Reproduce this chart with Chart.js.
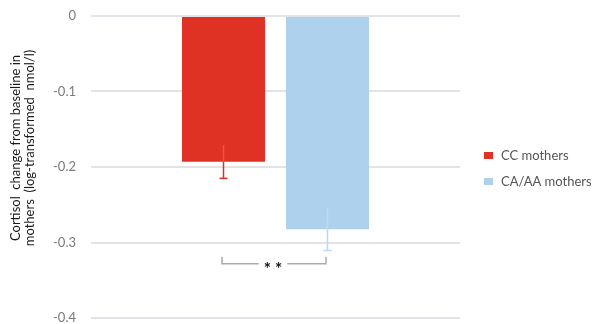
<!DOCTYPE html>
<html>
<head>
<meta charset="utf-8">
<script src="https://cdn.jsdelivr.net/npm/chart.js@4/dist/chart.umd.min.js"></script>
<style>
  html, body { margin: 0; padding: 0; background: #fff; }
  #wrap { width: 599px; height: 324px; position: relative; }
  canvas { display: block; }
</style>
</head>
<body>
<div id="wrap"><canvas id="c" width="599" height="324"></canvas></div>
<script>
// ---- data ----
const categories = [""];
const seriesLabels = ["CC mothers", "CA/AA mothers"];
const seriesValues = [[-0.193], [-0.2826]];
const seriesErrors = [[0.022], [0.028]];
const yTicks = [0, -0.1, -0.2, -0.3, -0.4];
const yTitleLines = ["Cortisol  change from baseline in", "mothers  (log-transformed  nmol/l)"];
const sigLabel = "* *";
const sigLevel = [-0.328];

// ---- styles ----
const barColors = ["#e03224", "#aed1ee"];
const errColors = ["#e03224", "#b4d9f6"];
const errInner = ["#e85448", "#bcdcf4"];
const FONT = "Lato, 'Open Sans', sans-serif";

const errorBars = {
  id: 'errorBars',
  afterDatasetsDraw(chart) {
    const ctx = chart.ctx;
    const y = chart.scales.y;
    chart.data.datasets.forEach((ds, di) => {
      const meta = chart.getDatasetMeta(di);
      meta.data.forEach((el, i) => {
        const v = ds.data[i];
        const e = seriesErrors[di][i];
        const yTop = y.getPixelForValue(v + e);
        const yBot = y.getPixelForValue(v - e);
        const yBar = y.getPixelForValue(v);
        ctx.save();
        ctx.lineWidth = 1.5;
        ctx.strokeStyle = errInner[di];
        ctx.beginPath(); ctx.moveTo(el.x, yTop); ctx.lineTo(el.x, yBar); ctx.stroke();
        ctx.strokeStyle = errColors[di];
        ctx.beginPath(); ctx.moveTo(el.x, yBar); ctx.lineTo(el.x, yBot); ctx.stroke();
        ctx.beginPath(); ctx.moveTo(el.x - 4, yBot); ctx.lineTo(el.x + 4, yBot); ctx.stroke();
        ctx.restore();
      });
    });
    // significance bracket
    const x1 = chart.getDatasetMeta(0).data[0].x - 1.5;
    const x2 = chart.getDatasetMeta(1).data[0].x - 1.5;
    const yb = y.getPixelForValue(sigLevel[0]);
    const cx = (x1 + x2) / 2 - 1;
    ctx.save();
    ctx.font = "bold 17px " + FONT;
    const tw = ctx.measureText(sigLabel).width;
    const gap = Math.max(tw / 2 + 5, 14);
    ctx.strokeStyle = "#a9adb2";
    ctx.lineWidth = 1.5;
    ctx.beginPath();
    ctx.moveTo(x1, yb - 7); ctx.lineTo(x1, yb); ctx.lineTo(cx - gap, yb);
    ctx.moveTo(cx + gap, yb); ctx.lineTo(x2, yb); ctx.lineTo(x2, yb - 7);
    ctx.stroke();
    ctx.fillStyle = "#111";
    ctx.textAlign = "center";
    ctx.textBaseline = "alphabetic";
    ctx.fillText(sigLabel, cx, yb + 11);
    ctx.restore();
  },
  afterDraw(chart) {
    const ctx = chart.ctx;
    ctx.save();
    ctx.font = "13px " + FONT;
    ctx.fillStyle = "#1a1a1a";
    ctx.textAlign = "center";
    ctx.textBaseline = "middle";
    const cy = 148;
    yTitleLines.forEach((t, i) => {
      ctx.save();
      ctx.translate(15.5 + i * 14.5, cy);
      ctx.rotate(-Math.PI / 2);
      ctx.fillText(t, 0, 0);
      ctx.restore();
    });
    // legend
    ctx.font = "13px " + FONT;
    ctx.textAlign = "left";
    seriesLabels.forEach((lab, i) => {
      const ly = 155.5 + i * 26;
      ctx.fillStyle = barColors[i];
      ctx.fillRect(484, ly - 3.5, 9, 7);
      ctx.fillStyle = "#555";
      ctx.fillText(lab, 501, ly + 0.5);
    });
    ctx.restore();
  }
};

new Chart(document.getElementById('c'), {
  type: 'bar',
  data: {
    labels: categories,
    datasets: seriesLabels.map((lab, i) => ({
      label: lab,
      data: seriesValues[i],
      backgroundColor: barColors[i],
      borderWidth: 0,
      categoryPercentage: 0.5637,
      barPercentage: 0.798
    }))
  },
  options: {
    responsive: false,
    animation: false,
    devicePixelRatio: 1,
    layout: { padding: { left: 0, right: 139, top: 16, bottom: 6 } },
    plugins: { legend: { display: false }, tooltip: { enabled: false } },
    scales: {
      x: { display: false },
      y: {
        min: -0.4, max: 0,
        afterFit(scale) { scale.width = 91; scale.paddingTop = 0; scale.paddingBottom = 0; },
        afterBuildTicks(scale) { scale.ticks = yTicks.map(v => ({ value: v })); },
        border: { display: false },
        grid: { color: '#e2e2e8', lineWidth: 2, drawTicks: false },
        ticks: {
          padding: 15,
          color: '#7a7a7a',
          font: { family: FONT, size: 13 },
          callback: v => (Math.round(v * 10) / 10).toString()
        }
      }
    }
  },
  plugins: [errorBars]
});
</script>
</body>
</html>
